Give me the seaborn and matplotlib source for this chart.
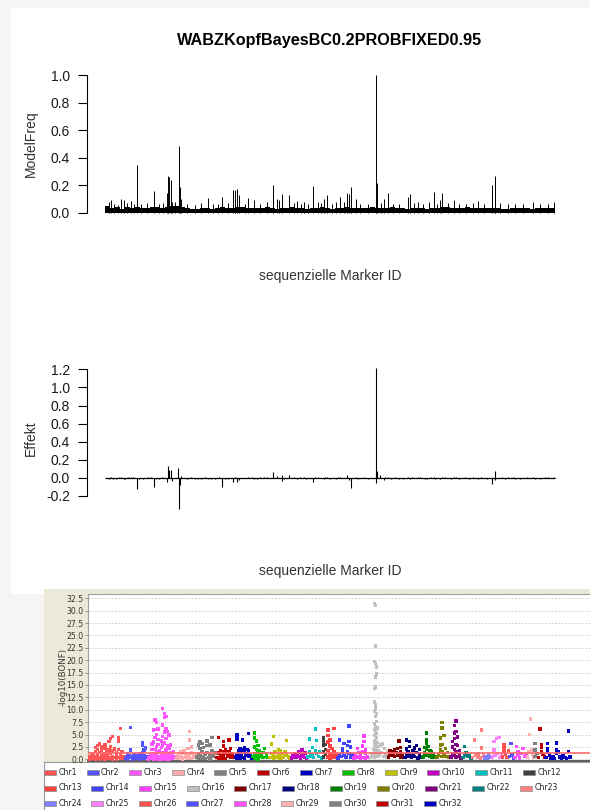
import numpy as np
import pandas as pd
import matplotlib
matplotlib.use("Agg")
import matplotlib.pyplot as plt
from matplotlib.patches import Rectangle
import seaborn as sns

# ---------------- DATA ----------------
title = "WABZKopfBayesBC0.2PROBFIXED0.95"
xlabel = "sequenzielle Marker ID"
n_markers = 45000

# top panel: background model frequency per 500-marker window
band_vals = [0.045, 0.035, 0.040, 0.030, 0.038, 0.033, 0.042, 0.036, 0.031, 0.040,
             0.044, 0.037, 0.041, 0.048, 0.050, 0.039, 0.034, 0.030, 0.028, 0.032,
             0.035, 0.029, 0.033, 0.038, 0.036, 0.031, 0.040, 0.043, 0.037, 0.034,
             0.032, 0.036, 0.039, 0.035, 0.030, 0.033, 0.037, 0.041, 0.034, 0.031,
             0.029, 0.033, 0.036, 0.038, 0.034, 0.030, 0.032, 0.035, 0.040, 0.037,
             0.033, 0.031, 0.035, 0.038, 0.036, 0.032, 0.034, 0.039, 0.035, 0.031,
             0.030, 0.034, 0.037, 0.033, 0.029, 0.032, 0.036, 0.040, 0.038, 0.035,
             0.033, 0.036, 0.039, 0.034, 0.031, 0.033, 0.037, 0.035, 0.032, 0.030,
             0.029, 0.031, 0.034, 0.036, 0.033, 0.030, 0.032, 0.035, 0.031, 0.033]

# top panel: individual markers with higher model frequency
freq_ids = [380, 640, 900, 1300, 1620, 1920, 2200, 2600, 2900, 3160, 3600, 4200, 4930,
            5400, 5800, 6170, 6320, 6440, 6550, 6700, 7000, 7380, 7490, 7640, 8200, 9000,
            9600, 10280, 10800, 11300, 11710, 12300, 12800, 13020, 13210, 13440, 14000,
            14340, 14940, 15500, 16200, 16750, 17160, 17400, 17650, 18400, 18900, 19230,
            19600, 19910, 20300, 20780, 21300, 21600, 21870, 22240, 22700, 23100, 23490,
            23900, 24160, 24430, 24610, 25070, 25500, 26300, 27140, 27210, 27600, 27890,
            28340, 28800, 29400, 30340, 30490, 30900, 31280, 31800, 32400, 32900, 33200,
            33530, 33720, 34300, 34890, 35400, 36100, 36800, 37300, 37900, 38650, 38950,
            39030, 39500, 40300, 41000, 41800, 42760, 43500, 44300, 44940]
freq_vals = [0.075, 0.09, 0.06, 0.055, 0.097, 0.09, 0.07, 0.085, 0.065, 0.35, 0.06, 0.07, 0.157,
             0.065, 0.07, 0.145, 0.27, 0.26, 0.235, 0.075, 0.08, 0.485, 0.19, 0.10, 0.06, 0.055,
             0.07, 0.105, 0.06, 0.065, 0.115, 0.07, 0.165, 0.165, 0.17, 0.13, 0.06,
             0.105, 0.09, 0.065, 0.075, 0.20, 0.10, 0.09, 0.135, 0.128, 0.07, 0.085,
             0.06, 0.08, 0.065, 0.195, 0.08, 0.07, 0.097, 0.128, 0.06, 0.075, 0.115,
             0.08, 0.14, 0.133, 0.186, 0.10, 0.06, 0.065, 1.00, 0.218, 0.07, 0.097,
             0.145, 0.065, 0.06, 0.115, 0.135, 0.07, 0.08, 0.065, 0.075, 0.15, 0.06,
             0.09, 0.145, 0.07, 0.09, 0.065, 0.06, 0.07, 0.087, 0.065, 0.20, 0.27,
             0.10, 0.07, 0.06, 0.065, 0.06, 0.08, 0.065, 0.06, 0.08]

# middle panel: marker effects
eff_ids = [380, 640, 1100, 1620, 1920, 2300, 2600, 3160, 3400, 4300, 4930, 5400, 6170, 6320,
           6440, 6550, 6700, 7340, 7380, 7490, 7640, 8200, 9000, 9600, 10280, 11000, 11710,
           12300, 12800, 13020, 13210, 13440, 14340, 14940, 15500, 16200, 16750, 17160,
           17650, 17700, 18400, 18900, 19230, 19910, 20780, 21300, 21870, 22240, 23100,
           23490, 24160, 24430, 24610, 25070, 26300, 27100, 27140, 27210, 27500, 27890,
           28340, 29400, 30340, 30490, 31280, 32000, 32900, 33530, 33720, 34890, 35400,
           36800, 37300, 38650, 38950, 39030, 40300, 41000, 42760, 43500, 44300, 44940,
           800, 1400, 2000, 2800, 3800, 4600, 5100, 5700, 8600, 9300, 10000, 10600, 11400,
           12000, 14700, 15200, 15900, 17900, 19500, 20100, 21000, 22000, 22500, 23300,
           25300, 25900, 28000, 28600, 29000, 29800, 30700, 31500, 32200, 32600, 33000,
           34000, 34600, 35100, 36000, 36400, 37600, 38200, 39700, 40000, 40800, 41500,
           42200, 43000, 44000]
eff_vals = [-0.01, 0.012, -0.015, 0.01, -0.012, 0.01, 0.015, -0.118, -0.01, 0.012, -0.10, -0.012,
            -0.045, 0.13, 0.085, 0.085, -0.03, 0.105, -0.347, -0.08, 0.02, -0.01, -0.012, -0.01,
            -0.015, -0.012, -0.10, -0.015, -0.045, 0.015, -0.045, -0.02, 0.012, -0.015, 0.012,
            0.015, 0.06, 0.02, 0.03, -0.035, 0.03, 0.012, -0.01, 0.015, -0.045, 0.01, -0.012,
            0.012, -0.01, 0.012, 0.03, -0.02, -0.107, 0.01, -0.01, -0.055, 1.22, 0.074, 0.03,
            -0.02, 0.015, -0.012, 0.012, -0.015, 0.012, -0.012, 0.015, -0.012, 0.015, 0.012,
            -0.01, 0.01, -0.012, -0.063, 0.074, -0.02, 0.01, -0.012, 0.012, -0.01, 0.01, 0.012,
            -0.012, 0.01, -0.01, 0.012, -0.015, 0.01, -0.012, 0.015, 0.01, -0.01, 0.012, -0.012,
            0.01, -0.01, 0.012, -0.012, 0.01, -0.015, 0.012, -0.01, 0.01, 0.012, -0.012, 0.01,
            -0.01, 0.012, 0.01, -0.012, 0.015, -0.01, 0.012, 0.01, -0.012, 0.015, -0.01, 0.012,
            -0.012, 0.01, 0.012, -0.01, 0.015, -0.012, 0.01, -0.01, 0.012, -0.012, 0.01, -0.01,
            0.012]

# bottom panel: Manhattan plot (-log10 BONF), entries left to right, tuples = stacked markers
chromosomes = ["Chr%d" % i for i in range(1, 33)]
chrom_sizes = [3384, 2162, 2632, 1880, 1880, 1786, 1598, 1598, 2068, 1504, 1410, 470,
               940, 1504, 1598, 1692, 1504, 1692, 1316, 1316, 1128, 940, 1128, 752,
               940, 658, 470, 1222, 658, 376, 658, 2444]
chrom_colors = ["#FF5555", "#5555FF", "#FF55FF", "#FFAAAA", "#808080", "#C00000", "#0000C0",
                "#00C000", "#C0C000", "#C000C0", "#00C0C0", "#404040", "#FF4040", "#4040FF",
                "#FF40FF", "#C0C0C0", "#800000", "#000080", "#008000", "#808000", "#800080",
                "#008080", "#FF8080", "#8080FF", "#FF80FF", "#FF5050", "#5050FF", "#FF50FF",
                "#FFB0B0", "#808080", "#C00000", "#0000C0"]
chr01 = [(0.5, 0.1), (0.3, 1.2), (0.8, 0.2), (0.6, 1.6, 2.4, 0.1), (1.0, 2.0, 2.8, 0.3),
         (0.4, 1.4, 3.1, 0.1), (0.7, 1.8, 2.5, 0.2), (1.1, 0.3), (0.5, 2.2, 2.9, 0.1), (0.9, 1.5, 0.2),
         (0.3, 1.9, 3.6), (1.2, 2.6, 4.2, 0.2), (0.6, 1.7, 4.6, 0.1), (2.1, 0.4), (0.8, 1.3, 0.1),
         (0.4, 2.0, 3.7, 4.4), (1.0, 6.2, 0.2), (1.5, 0.3), 0.6]
chr02 = [0.3, (0.5, 1.2, 0.1), 0.8, (0.4, 1.9, 6.4), (0.6, 0.1), (0.3, 1.0), 0.2, (0.7, 0.2),
         (0.4, 1.1), (0.5, 0.1), (1.3, 2.9, 3.4, 0.3), (0.8, 1.9, 0.2), (2.3, 0.5), 0.6]
chr03 = [(0.4, 0.1), (1.0, 0.3), (0.6, 2.0, 3.1, 0.2), (1.2, 3.5, 5.9, 0.5, 0.1),
         (2.0, 4.4, 6.0, 7.9, 0.9, 0.2), (0.8, 2.6, 5.0, 7.4, 1.3, 0.3),
         (1.5, 3.0, 4.0, 6.1, 0.4, 0.1), (1.8, 0.6, 0.2), (0.9, 2.4, 3.7, 0.5, 0.1),
         (1.3, 2.9, 4.6, 6.9, 10.3, 0.6, 0.2), (0.7, 3.3, 5.5, 8.4, 9.3, 1.1, 0.3),
         (1.9, 4.2, 6.2, 8.6, 0.5, 0.1), (1.1, 2.7, 5.6, 0.4, 0.2), (0.5, 2.2, 4.9, 1.2, 0.1),
         (1.4, 2.9, 0.7, 0.2), (0.8, 0.3), (1.6, 0.4), 0.5]
chr04 = [0.3, (0.9, 0.2), (0.5, 1.6), (1.2, 0.1), (0.4, 1.8), 0.7, (1.0, 2.2, 0.3),
         (0.6, 3.9, 5.6), (1.3, 2.5, 0.2), 0.5, 0.8]
chr05 = [0.5, (1.2, 2.9, 0.2), (0.8, 2.2, 3.6), (1.6, 3.2, 0.3), (0.6, 2.4), (1.0, 0.2),
         (1.4, 2.8, 3.7), 0.4, (0.9, 2.9, 0.1), (1.8, 4.4), 0.7, 1.3]
chr06 = [0.4, (1.3, 4.4, 0.2), (0.7, 1.8), (1.0, 0.3), (0.5, 1.6, 2.7, 3.6), (1.2, 1.9, 0.2), 0.6,
         (0.9, 1.5, 3.9), (0.4, 2.2), 1.1, 0.5]
chr07 = [0.5, (1.0, 4.1, 4.9, 0.2), (0.6, 1.7), (1.2, 2.2, 0.3), (0.8, 1.9), (0.4, 2.0, 3.9),
         (1.5, 2.3, 0.2), 0.9, (1.1, 2.0), (0.6, 1.8, 5.2), 0.7, 0.3]
chr08 = [0.6, (1.2, 2.5, 4.3, 5.3, 0.2), (0.9, 2.0, 3.7, 0.3), (0.5, 1.6, 2.8, 0.1), (1.0, 1.8),
         0.7, (0.4, 1.4), 2.2, (0.6, 1.2), 0.4]
chr09 = [0.4, (1.2, 3.1), (0.7, 4.6, 0.2), 1.5, 0.5, (0.9, 2.0), (0.6, 1.8, 0.2), 1.2, 0.4,
         (0.8, 1.6), (1.0, 3.8), 0.5, 0.3]
chr10 = [0.3, 0.8, (0.5, 1.2), 0.4, 0.9, (0.6, 1.5), 0.3, (1.0, 1.9), 0.6, (0.4, 1.3), 0.2]
chr11 = [0.5, (1.5, 4.1), 0.7, (1.0, 2.4), 0.4, (1.8, 6.1), (1.2, 3.8), 0.6, 1.6, 0.3]
chr12 = [(0.5, 1.5, 2.9, 3.6, 4.3), (1.0, 2.0, 3.0)]
chr13 = [(0.5, 1.8, 3.5, 4.8, 5.9), (1.2, 2.7, 3.9, 0.2), (0.8, 2.2), (0.4, 1.5, 6.2), 0.9]
chr14 = [0.3, (1.0, 3.9), 0.6, (1.4, 2.1), (0.8, 3.2), 0.5, (1.5, 2.8), (1.2, 3.6, 6.7), (0.5, 2.5), 1.0]
chr15 = [0.3, 0.8, (0.5, 2.2), 1.4, (0.6, 1.0, 0.2), (1.6, 2.7), (0.4, 3.6, 4.7), (1.2, 1.9, 0.3), 0.6, 0.4]
chr16 = [0.4, 1.2, 0.7, 2.0,
         (0.5, 1.5, 2.8, 3.5, 4.8, 6.0, 7.2, 9.7, 11.6, 14.3, 19.8, 31.5),
         (1.0, 2.3, 4.0, 5.5, 6.6, 8.6, 10.3, 11.0, 14.6, 16.6, 19.3, 22.9, 31.0),
         (0.8, 1.9, 3.0, 4.4, 5.2, 7.6, 9.3, 17.2, 18.6),
         (0.6, 1.3, 2.6, 3.4, 6.3), 1.8, 0.9, 2.9, 1.4, 3.1, 0.6, 2.2, 1.0, 0.4, 1.6]
chr17 = [0.5, (1.2, 1.8), 0.8, (1.0, 1.6), (0.6, 2.0), 1.4, (0.9, 2.2), (1.1, 3.7), (0.4, 1.5, 2.4), 0.9, 0.4]
chr18 = [0.4, (1.0, 2.1, 3.9), (0.7, 1.5), (1.2, 2.6, 3.6), 0.5, (1.0, 1.8), (0.6, 2.3), (1.4, 2.8),
         0.3, (1.1, 2.0), 0.5]
chr19 = [0.5, (1.3, 2.4), (2.0, 3.3, 3.9, 5.3, 0.8), (1.0, 2.6), (0.7, 1.8), (0.4, 1.5), 1.1, 0.5]
chr20 = [0.4, (0.8, 1.2), (1.9, 2.9, 4.3), (1.5, 3.0, 6.3, 7.4, 0.6), (1.0, 4.8), (0.6, 2.2), 1.4, 0.5]
chr21 = [0.5, (1.2, 2.5, 3.6), (0.8, 2.0, 4.2, 5.3, 6.8), (1.5, 3.0, 5.6, 7.7, 0.4), (0.6, 2.8, 4.5),
         (1.0, 1.8), 0.3]
chr22 = [0.4, (0.9, 2.6), 1.3, 0.6, 0.8, 0.3]
chr23 = [0.4, 3.9, 0.8, 0.5, 1.1, 0.3, (2.3, 5.9), 0.7]
chr24 = [0.3, 0.6, 0.2, 0.9, 0.4, 0.5]
chr25 = [0.5, (1.9, 3.6), 0.8, 4.2, 1.2, 4.4, 0.4, 1.0]
chr26 = [0.5, (1.5, 2.3, 2.9), 1.0, 0.4, 1.8]
chr27 = [0.6, 3.2, 0.9, 0.3]
chr28 = [0.4, 2.6, (0.8, 1.5), 0.3, 1.2, 2.2, 0.6, 1.0]
chr29 = [0.5, 1.5, 5.0, 8.1, 1.9, 1.0, 0.4]
chr30 = [(0.6, 1.9, 3.2), 1.2]
chr31 = [0.4, 6.1, (1.5, 2.4, 3.0), 1.0, 0.5]
chr32 = [0.4, (1.5, 2.2, 3.2), 0.9, 0.3, 0.6, 0.2, (1.2, 1.9, 3.3), 1.5, 0.5, 0.3, 0.8, 0.4, 0.2,
         (1.6, 5.7), 0.5]
chrom_values = [chr01, chr02, chr03, chr04, chr05, chr06, chr07, chr08, chr09, chr10, chr11,
                chr12, chr13, chr14, chr15, chr16, chr17, chr18, chr19, chr20, chr21, chr22,
                chr23, chr24, chr25, chr26, chr27, chr28, chr29, chr30, chr31, chr32]
bonf_threshold = 1.3
man_yticks = np.arange(0, 32.6, 2.5)

# ---------------- BUILD TABLES ----------------
rows = []
start = 0
for name, size, entries in zip(chromosomes, chrom_sizes, chrom_values):
    n = len(entries)
    for i, e in enumerate(entries):
        pos = start + (i + 0.5) * size / n
        vals = e if isinstance(e, tuple) else (e,)
        for v in vals:
            rows.append((name, pos, v))
    start += size
man_df = pd.DataFrame(rows, columns=["chrom", "pos", "logp"])
total_markers = start

freq_df = pd.DataFrame({"id": freq_ids, "freq": freq_vals})
eff_df = pd.DataFrame({"id": eff_ids, "eff": eff_vals})
band_df = pd.DataFrame({"id": np.arange(len(band_vals)) * 500 + 250, "freq": band_vals})

# ---------------- FIGURE ----------------
sns.set_theme(style="white")
plt.rcParams['font.family'] = ['Liberation Sans', 'DejaVu Sans']

W, H = 590, 810
fig = plt.figure(figsize=(5.9, 8.1), dpi=100)
fig.patch.set_facecolor('#F5F5F5')


def rect(x0, y0, x1, y1):
    return [x0 / W, 1 - y1 / H, (x1 - x0) / W, (y1 - y0) / H]


def fx(x):
    return x / W


def fy(y):
    return 1 - y / H


# panels
fig.add_artist(Rectangle((fx(11), fy(594)), (600 - 11) / W, (594 - 8) / H, transform=fig.transFigure,
                         facecolor='white', edgecolor='none', zorder=-10))
fig.add_artist(Rectangle((fx(44), fy(762)), (600 - 44) / W, (762 - 589) / H, transform=fig.transFigure,
                         facecolor='#ECE9D8', edgecolor='none', zorder=-9))
fig.add_artist(Rectangle((fx(43.5), fy(815)), (600 - 43.5) / W, (815 - 762) / H, transform=fig.transFigure,
                         facecolor='white', edgecolor='#9A9A9A', lw=0.8, zorder=-8))

r_text = '#1a1a1a'


def r_axis(ax, lo, hi, ticks):
    ax.set_facecolor('none')
    for s in ['top', 'right', 'bottom']:
        ax.spines[s].set_visible(False)
    ax.spines['left'].set_bounds(lo, hi)
    ax.spines['left'].set_color('black')
    ax.spines['left'].set_linewidth(0.8)
    ax.set_xticks([])
    ax.set_yticks(ticks)
    ax.set_yticklabels(["%.1f" % t for t in ticks])
    ax.tick_params(axis='y', direction='out', length=6.8, width=0.8, pad=5.4,
                   labelsize=10, colors='black', labelcolor=r_text, left=True)
    ax.set_xlabel('')
    ax.set_ylabel('')


# top panel
ax1 = fig.add_axes(rect(87, 69.5, 573, 218.2))
ax1.bar(band_df["id"], band_df["freq"], width=500, color='black', linewidth=0)
ax1.vlines(freq_df["id"], 0, freq_df["freq"], color='black', lw=0.7)
ax1.set_xlim(-0.04 * n_markers, 1.04 * n_markers)
ax1.set_ylim(-0.04, 1.04)
r_axis(ax1, 0, 1, np.round(np.arange(0, 1.01, 0.2), 1))

# middle panel
ax2 = fig.add_axes(rect(87, 361.8, 573, 515))
ax2.hlines(0, 0, n_markers, color='black', lw=0.9)
ax2.vlines(eff_df["id"], 0, eff_df["eff"], color='black', lw=0.8)
ax2.set_xlim(-0.04 * n_markers, 1.04 * n_markers)
ax2.set_ylim(-0.41, 1.283)
r_axis(ax2, -0.2, 1.2, np.round(np.arange(-0.2, 1.21, 0.2), 1))

fig.text(fx(330), fy(40), title, ha='center', va='center', fontsize=11.7, fontweight='bold', color='black')
fig.text(fx(31), fy(144), 'ModelFreq', rotation=90, ha='center', va='center', fontsize=10, color='#333333')
fig.text(fx(330), fy(276), xlabel, ha='center', va='center', fontsize=10, color='#333333')
fig.text(fx(31), fy(438.5), 'Effekt', rotation=90, ha='center', va='center', fontsize=10, color='#333333')
fig.text(fx(330), fy(571), xlabel, ha='center', va='center', fontsize=10, color='#333333')

# bottom panel: Manhattan
px_per_marker = 482.0 / total_markers
ax3 = fig.add_axes(rect(88, 594, 700, 761))
ax3.set_facecolor('white')
sns.scatterplot(data=man_df, x="pos", y="logp", hue="chrom",
                palette=dict(zip(chromosomes, chrom_colors)), marker='s', s=6,
                linewidth=0, legend=False, ax=ax3, zorder=3)
ax3.axhline(bonf_threshold, color='#FF6A6A', lw=1.4, alpha=0.85, zorder=4)
ax3.set_xlim(-1 / px_per_marker, (700 - 89) / px_per_marker)
ax3.set_ylim(-0.343, 33.37)
ax3.set_xticks([])
ax3.set_yticks(man_yticks)
ax3.set_yticklabels(["%.1f" % t for t in man_yticks], fontfamily='DejaVu Sans')
ax3.yaxis.grid(True, color='#C4C4C4', linestyle=(0, (2, 2)), lw=0.6)
ax3.xaxis.grid(False)
ax3.set_axisbelow(True)
ax3.tick_params(axis='y', length=2.2, width=0.6, color='#888888', labelsize=5.6,
                labelcolor='#333333', pad=1.2, left=True)
ax3.set_xlabel('')
ax3.set_ylabel('')
for s, c, w in [('top', '#A0A0A0', 0.8), ('left', '#A0A0A0', 0.8), ('bottom', '#505050', 1.3)]:
    ax3.spines[s].set_color(c)
    ax3.spines[s].set_linewidth(w)
ax3.spines['right'].set_visible(False)
fig.text(fx(63), fy(677), '-log10(BONF)', rotation=90, ha='center', va='center',
         fontsize=6.2, family='DejaVu Sans', color='#333333')

# legend (flow layout like the original)
renderer = fig.canvas.get_renderer()
legend_rows = [range(0, 12), range(12, 23), range(23, 32)]
row_y = [772.7, 788.0, 803.3]
for r, idxs in enumerate(legend_rows):
    x = 43.8
    for k in idxs:
        fig.add_artist(Rectangle((fx(x), fy(row_y[r] + 2.5)), 12 / W, 5 / H, transform=fig.transFigure,
                                 facecolor=chrom_colors[k], edgecolor='#8A8A8A', lw=0.5, zorder=5))
        t = fig.text(fx(x + 14.5), fy(row_y[r]), chromosomes[k], ha='left', va='center',
                     fontsize=5.6, family='DejaVu Sans', color='#222222')
        bb = t.get_window_extent(renderer)
        x = x + 14.5 + bb.width + 9.6

fig.savefig("out.png", dpi=100)
